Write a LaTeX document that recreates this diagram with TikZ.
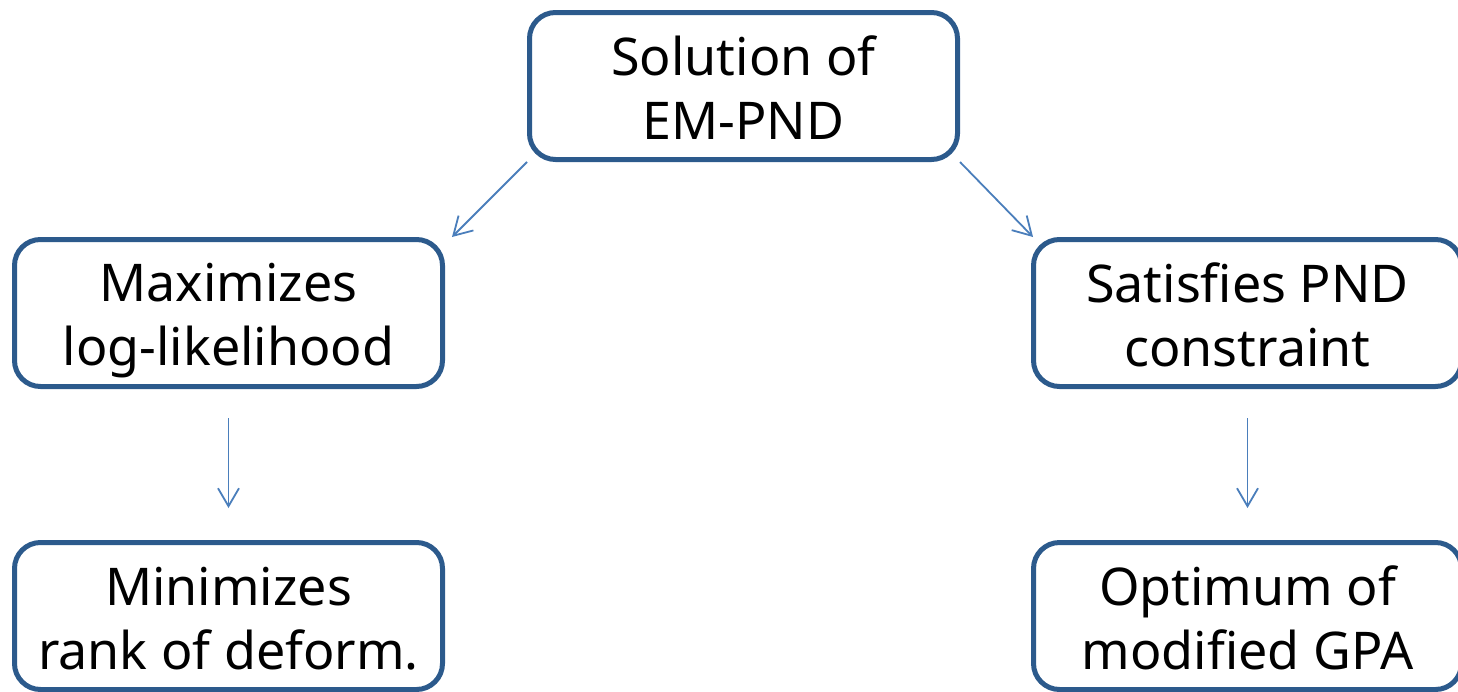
\documentclass[tikz,border=0pt]{standalone}
\usepackage{fontspec}
\setmainfont{Noto Sans}
\usetikzlibrary{arrows.meta}
\definecolor{boxline}{HTML}{2C5A8C}
\definecolor{arrowc}{HTML}{4A7EBB}
\newcommand\twolines[2]{\rule{0pt}{54pt}#1\\#2\rule[-12pt]{0pt}{12pt}}
\tikzset{
  box/.style={draw=boxline, line width=5pt, rounded corners=26pt, fill=white,
    minimum width=428pt, minimum height=147pt, inner sep=0pt, align=center,
    font=\fontsize{52}{64}\selectfont},
  conn/.style={draw=arrowc, line width=1.8pt, -{Straight Barb[length=18pt,width=21pt,line width=1.8pt]}}
}
\begin{document}
\begin{tikzpicture}[x=1pt,y=-1pt]
\useasboundingbox (0,0) rectangle (1458,691);
\node[box] (top) at (743.5,86) {\twolines{Solution of}{EM-PND}};
\node[box] (lm) at (228.5,313) {\twolines{Maximizes}{log-likelihood}};
\node[box] (rm) at (1247.5,313) {\twolines{Satisfies PND}{constraint}};
\node[box] (lb) at (228.5,616) {\twolines{Minimizes}{rank of deform.}};
\node[box] (rb) at (1247.5,616) {\twolines{Optimum of}{modified GPA}};
\draw[conn] (top.south west) -- ([xshift=7pt]lm.north east);
\draw[conn] (top.south east) -- ([xshift=2pt]rm.north west);
\draw[conn] ([yshift=-29pt]lm.south) -- ([yshift=32pt]lb.north);
\draw[conn] ([yshift=-29pt]rm.south) -- ([yshift=32pt]rb.north);
\end{tikzpicture}
\end{document}
